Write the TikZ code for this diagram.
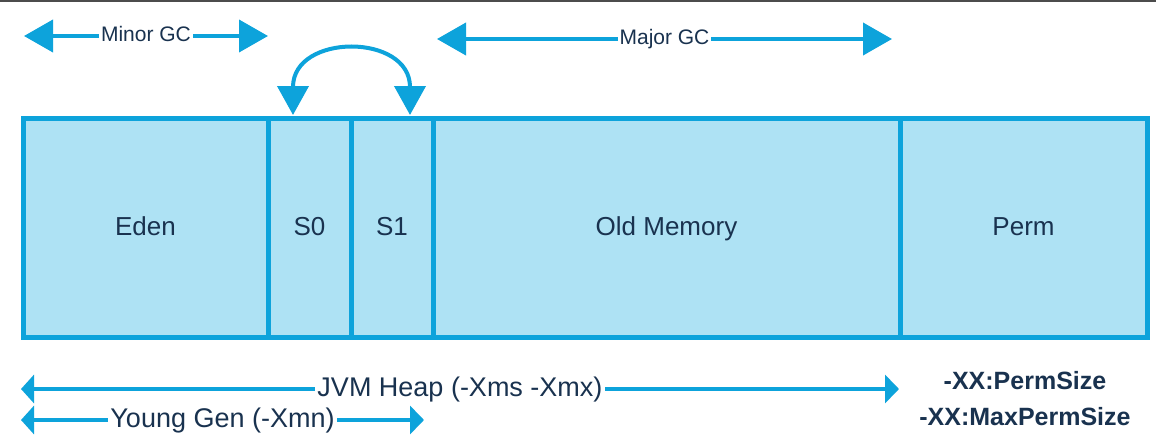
\documentclass[tikz,border=0pt]{standalone}
\usepackage{fontspec}
\setmainfont{Liberation Sans}
\usetikzlibrary{arrows.meta}
\definecolor{jvmline}{HTML}{0DA3DB}
\definecolor{jvmfill}{HTML}{AEE2F4}
\definecolor{jvmtext}{HTML}{19324F}
\tikzset{
  cell/.style={draw=jvmline, fill=jvmfill, line width=5pt, inner sep=0pt, outer sep=0pt,
    minimum height=219pt, text=jvmtext, text height=19pt, text depth=5pt,
    font=\fontsize{26}{30}\selectfont},
  gcarrow/.style={draw=jvmline, line width=4pt,
    {Triangle[length=29pt,width=32pt]}-{Triangle[length=29pt,width=32pt]}},
  heaparrow/.style={draw=jvmline, line width=4pt,
    {Triangle[length=13pt,width=28pt]}-{Triangle[length=14pt,width=28pt]}},
  gclabel/.style={fill=white, inner sep=2pt, text=jvmtext, text height=15pt, text depth=4pt,
    font=\fontsize{21}{25}\selectfont},
  heaplabel/.style={fill=white, inner sep=2pt, text=jvmtext, text height=19pt, text depth=5pt,
    font=\fontsize{27}{31}\selectfont},
  permlabel/.style={inner sep=0pt, text=jvmtext, text height=18pt, text depth=0pt,
    font=\bfseries\fontsize{25}{29}\selectfont}
}
\begin{document}
\begin{tikzpicture}[x=1pt,y=-1pt]
\useasboundingbox (0,0) rectangle (1156,439);
\fill[white] (0,0) rectangle (1156,439);
\draw[line width=2pt, color=black!70] (0,1) -- (1156,1);
% cells
\node[cell, minimum width=245pt] (eden) at (145.5,228) {Eden};
\node[cell, minimum width=83pt]  (s0)   at (309.5,228) {S0};
\node[cell, minimum width=82pt]  (s1)   at (392,228) {S1};
\node[cell, minimum width=467pt] (old)  at (666.5,228) {Old Memory};
\node[cell, minimum width=247pt] (perm) at (1023.5,228) {Perm};
% survivor exchange arrow
\coordinate (c0) at (293,115);
\coordinate (c1) at (410,115);
\draw[draw=jvmline, line width=4pt,
  {Triangle[length=29pt,width=31pt]}-{Triangle[length=29pt,width=31pt]}]
  (c0) .. controls (293,33) and (410,33) .. (c1);
% GC arrows
\coordinate (mi0) at (24,36);
\coordinate (mi1) at (268,36);
\draw[gcarrow] (mi0) -- node[gclabel] (minor) {Minor GC} (mi1);
\coordinate (ma0) at (437,39);
\coordinate (ma1) at (892,39);
\draw[gcarrow] (ma0) -- node[gclabel] (major) {Major GC} (ma1);
% heap arrows
\coordinate (h0) at (21,389);
\coordinate (h1) at (899,389);
\draw[heaparrow] (h0) -- node[heaplabel] (heap) {JVM Heap (-Xms -Xmx)} (h1);
\coordinate (y0) at (21,420);
\coordinate (y1) at (424,420);
\draw[heaparrow] (y0) -- node[heaplabel] (young) {Young Gen (-Xmn)} (y1);
% perm options
\node[permlabel] (ps) at (1025,380) {-XX:PermSize};
\node[permlabel] (mps) at (1025,416) {-XX:MaxPermSize};
\end{tikzpicture}
\end{document}
